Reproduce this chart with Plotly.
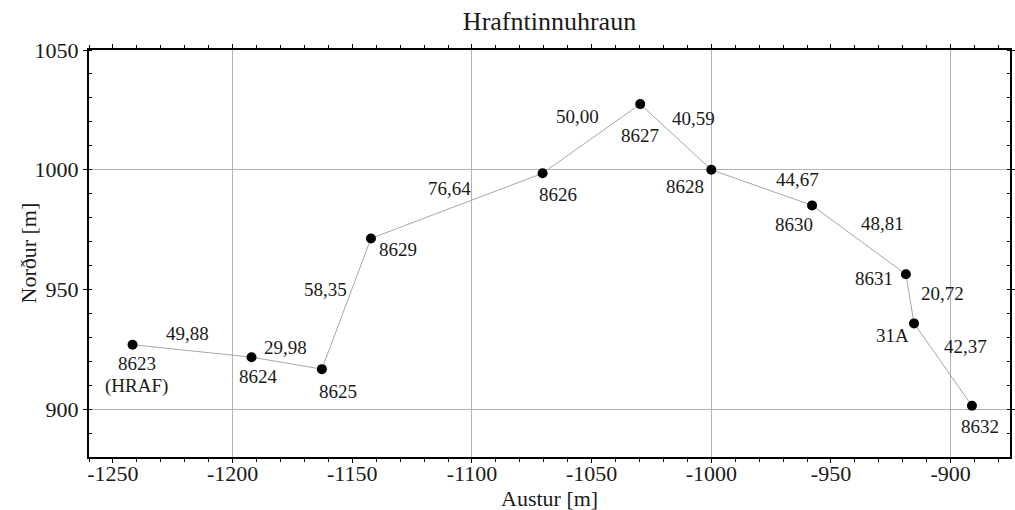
import plotly.graph_objects as go

# ---- data ----
stations = ["8623\n(HRAF)", "8624", "8625", "8629", "8626", "8627",
            "8628", "8630", "8631", "31A", "8632"]
east = [-1241.8, -1192.1, -1162.7, -1142.2, -1070.5, -1029.7,
        -1000.0, -957.9, -918.7, -915.3, -891.1]
north = [926.9, 921.7, 916.7, 971.3, 998.5, 1027.4,
         1000.0, 985.1, 956.3, 935.8, 901.4]
distances = ["49,88", "29,98", "58,35", "76,64", "50,00", "40,59",
             "44,67", "48,81", "20,72", "42,37"]
x_ticks = [-1250, -1200, -1150, -1100, -1050, -1000, -950, -900]
y_ticks = [900, 950, 1000, 1050]
title_text = "Hrafntinnuhraun"
x_title = "Austur [m]"
y_title = "Norður [m]"

# ---- styles / label offsets (pixels, right / down) ----
station_offsets = [(4, 19), (7, 19), (16, 22), (27, 11), (15, 21), (0, 31),
                   (-26, 17), (-18, 19), (-32, 4), (-22, 12), (8, 21)]
dist_offsets = [(-5, -17), (-1, -16), (-21, -14), (-7, -17), (-14, -22),
                (18, -18), (36, -8), (24, -16), (33, -5), (23, -18)]
FONT = "Liberation Serif, Times New Roman, serif"
TXT = "#1a1a1a"
LINE_SPACING = 22

fig = go.Figure()
fig.add_trace(go.Scatter(
    x=east, y=north, mode="lines+markers",
    line=dict(color="#a6a6a6", width=1),
    marker=dict(color="black", size=10),
    hoverinfo="skip", showlegend=False))
# invisible trace to carry the overlay grid axes
fig.add_trace(go.Scatter(x=east, y=north, xaxis="x2", yaxis="y2",
                         mode="markers", marker=dict(opacity=0),
                         hoverinfo="skip", showlegend=False))

annotations = []
for name, x, y, (dx, dy) in zip(stations, east, north, station_offsets):
    for i, line in enumerate(name.split("\n")):
        annotations.append(dict(x=x, y=y, xref="x", yref="y", text=line,
                                showarrow=False, xshift=dx, borderpad=0,
                                yshift=-(dy + i * LINE_SPACING),
                                font=dict(family=FONT, size=19, color=TXT)))
for i, d in enumerate(distances):
    mx = (east[i] + east[i + 1]) / 2
    my = (north[i] + north[i + 1]) / 2
    dx, dy = dist_offsets[i]
    annotations.append(dict(x=mx, y=my, xref="x", yref="y", text=d,
                            showarrow=False, xshift=dx, yshift=-dy,
                            font=dict(family=FONT, size=19, color=TXT)))
# axis titles
annotations.append(dict(x=0.5, y=0, xref="paper", yref="paper", text=x_title,
                        showarrow=False, yshift=-41, yanchor="middle",
                        borderpad=0,
                        font=dict(family=FONT, size=22, color=TXT)))
annotations.append(dict(x=0, y=0.5, xref="paper", yref="paper", text=y_title,
                        showarrow=False, xshift=-61, xanchor="center",
                        textangle=-90,
                        font=dict(family=FONT, size=22, color=TXT)))

axis_common = dict(showline=True, linecolor="black", linewidth=2,
                   mirror="allticks", zeroline=False, showgrid=False,
                   automargin=False,
                   tickfont=dict(family=FONT, size=22, color=TXT),
                   tickcolor="black", ticklen=4, tickwidth=1)

grid_common = dict(dtick=100, tick0=0, showgrid=True, gridcolor="#b3b3b3",
                   gridwidth=1, showticklabels=False, ticks="",
                   showline=False, zeroline=False, automargin=False)

fig.update_layout(
    width=1015, height=510,
    paper_bgcolor="white", plot_bgcolor="white",
    margin=dict(l=89, r=5, t=50, b=53),
    font=dict(family=FONT, color=TXT),
    title=dict(text=title_text, x=0.5, xref="paper",
               y=1 - 21 / 510, yref="container", yanchor="middle",
               xanchor="center", font=dict(family=FONT, size=26, color=TXT)),
    xaxis=dict(range=[-1260, -875.2], tickvals=x_ticks,
               ticktext=[str(v) for v in x_ticks], ticks="outside",
               ticklabelstandoff=-8,
               minor=dict(dtick=10, ticks="outside", ticklen=3,
                          tickcolor="black", showgrid=False),
               **axis_common),
    yaxis=dict(range=[880, 1050], tickvals=y_ticks,
               ticktext=[str(v) for v in y_ticks], ticks="outside",
               minor=dict(dtick=10, ticks="inside", ticklen=3,
                          tickcolor="black", showgrid=False),
               **axis_common),
    xaxis2=dict(overlaying="x", matches="x", **grid_common),
    yaxis2=dict(overlaying="y", matches="y", **grid_common),
    annotations=annotations,
)

fig.write_html("out.html", config={"displayModeBar": False},
               post_script="document.body.style.margin='0';"
                           "document.body.style.overflow='hidden';")
